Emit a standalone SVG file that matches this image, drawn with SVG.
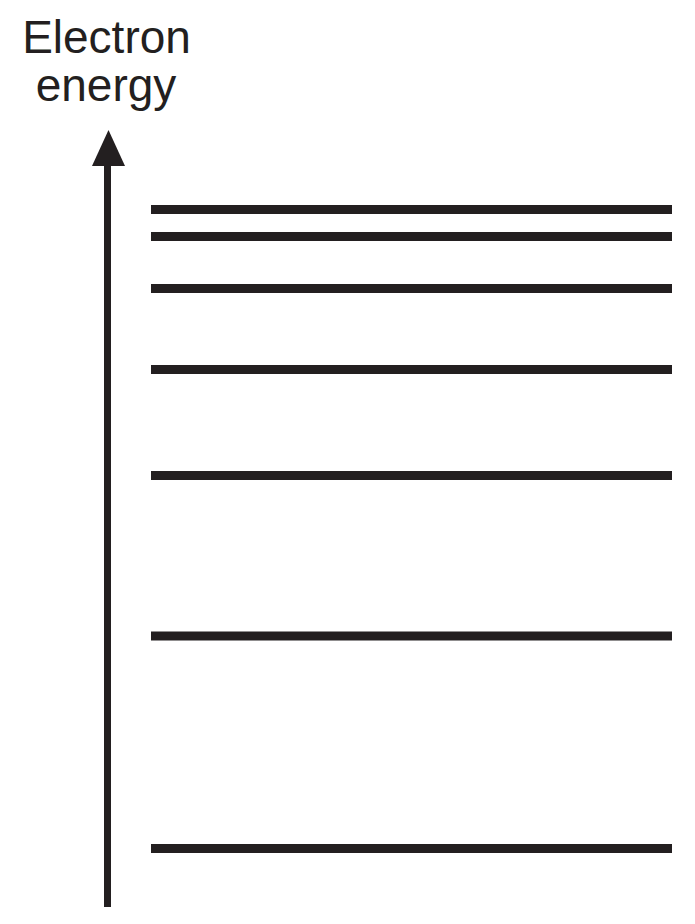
<svg xmlns="http://www.w3.org/2000/svg" width="695" height="924" viewBox="0 0 695 924">
<style>
.lvl{stroke:#231f20;stroke-width:9;fill:none}
.lbl{font-family:"Liberation Sans",Arial,sans-serif;font-size:46px;fill:#231f20;text-anchor:middle}
</style>
<rect width="695" height="924" fill="#ffffff"/>
<g id="axis-label">
<text class="lbl" x="106.5" y="53.3">Electron</text>
<text class="lbl" x="106" y="101">energy</text>
</g>
<g id="connectors">
<line x1="107.5" y1="160" x2="107.5" y2="907" stroke="#231f20" stroke-width="7"/>
<polygon points="108.5,130 125,166 92,166" fill="#231f20"/>
</g>
<g id="levels">
<line class="lvl" x1="151" y1="209.5" x2="672" y2="209.5"/>
<line class="lvl" x1="151" y1="236.5" x2="672" y2="236.5"/>
<line class="lvl" x1="151" y1="288.5" x2="672" y2="288.5"/>
<line class="lvl" x1="151" y1="369.5" x2="672" y2="369.5"/>
<line class="lvl" x1="151" y1="475.5" x2="672" y2="475.5"/>
<line class="lvl" x1="151" y1="636" x2="672" y2="636"/>
<line class="lvl" x1="151" y1="848.5" x2="672" y2="848.5"/>
</g>
</svg>
